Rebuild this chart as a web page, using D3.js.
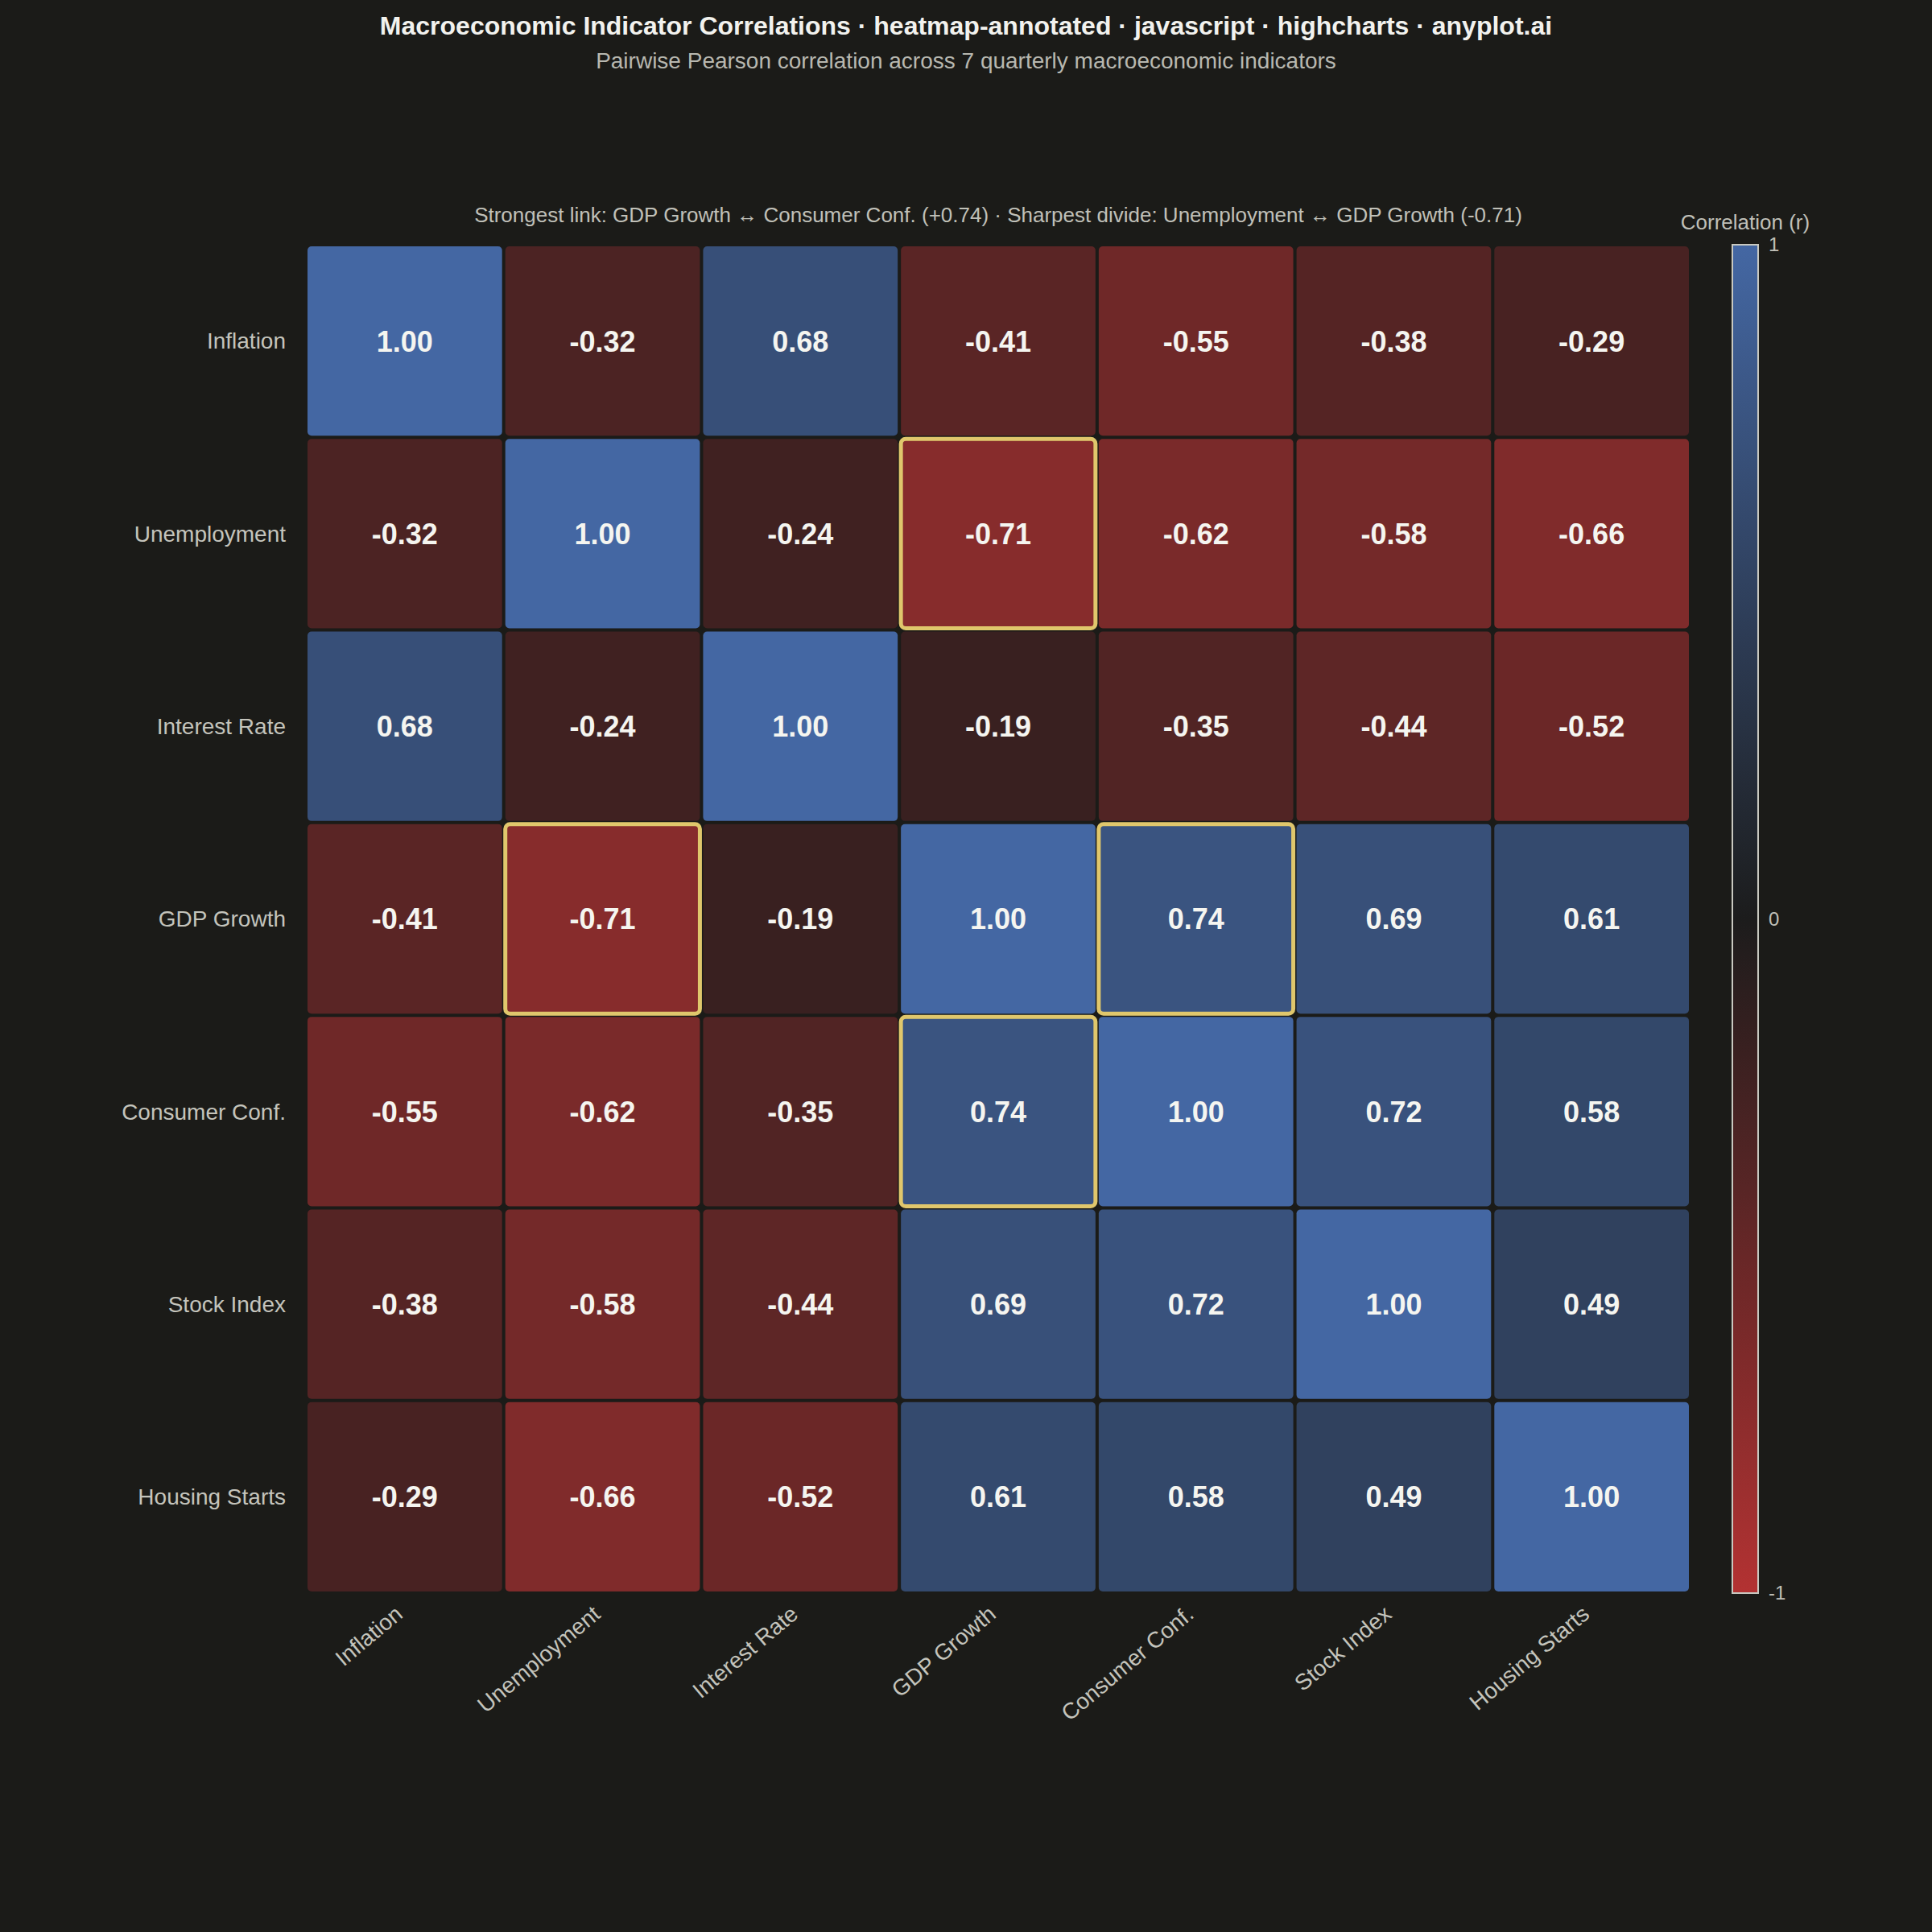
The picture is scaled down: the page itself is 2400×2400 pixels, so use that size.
<!DOCTYPE html>
<html>
<head>
<meta charset="utf-8">
<script src="https://cdn.jsdelivr.net/npm/d3@7/dist/d3.min.js"></script>
<style>
  html, body { margin: 0; padding: 0; background: #1b1b18; }
  svg { display: block; }
  text { font-family: "Liberation Sans", Arial, Helvetica, sans-serif; }
</style>
</head>
<body>
<svg id="chart" width="2400" height="2400"></svg>
<script>
// ---- data ----
const indicators = ["Inflation", "Unemployment", "Interest Rate", "GDP Growth", "Consumer Conf.", "Stock Index", "Housing Starts"];
const correlations = [
  [ 1.00, -0.32,  0.68, -0.41, -0.55, -0.38, -0.29],
  [-0.32,  1.00, -0.24, -0.71, -0.62, -0.58, -0.66],
  [ 0.68, -0.24,  1.00, -0.19, -0.35, -0.44, -0.52],
  [-0.41, -0.71, -0.19,  1.00,  0.74,  0.69,  0.61],
  [-0.55, -0.62, -0.35,  0.74,  1.00,  0.72,  0.58],
  [-0.38, -0.58, -0.44,  0.69,  0.72,  1.00,  0.49],
  [-0.29, -0.66, -0.52,  0.61,  0.58,  0.49,  1.00]
];
const highlighted = [["Unemployment", "GDP Growth"], ["GDP Growth", "Consumer Conf."]];
const colorDomain = [-1, 0, 1];
const colorTickLabels = ["1", "0", "-1"];
const colorTickValues = [1, 0, -1];

const titleText = "Macroeconomic Indicator Correlations · heatmap-annotated · javascript · highcharts · anyplot.ai";
const subtitleText = "Pairwise Pearson correlation across 7 quarterly macroeconomic indicators";
const annotationText = "Strongest link: GDP Growth \u2194 Consumer Conf. (+0.74) · Sharpest divide: Unemployment \u2194 GDP Growth (-0.71)";
const legendTitle = "Correlation (r)";

// ---- layout ----
const W = 2400, H = 2400;
const plot = { left: 380, right: 2100, top: 304, bottom: 1979 };
const svg = d3.select("#chart");
svg.append("rect").attr("width", W).attr("height", H).attr("fill", "#1b1b18");

const x = d3.scaleBand().domain(indicators).range([plot.left, plot.right]).padding(0);
const y = d3.scaleBand().domain(indicators).range([plot.top, plot.bottom]).padding(0);
const color = d3.scaleLinear().domain(colorDomain).range(["#b33232", "#1c1c1c", "#4467a3"]).interpolate(d3.interpolateRgb);
const fmt = v => d3.format(".2f")(v).replace("\u2212", "-");

const cells = [];
indicators.forEach((r, i) => indicators.forEach((c, j) => cells.push({ row: r, col: c, v: correlations[i][j] })));

const inset = 2;
const g = svg.append("g");
g.selectAll("rect.cell").data(cells).join("rect")
  .attr("class", "cell")
  .attr("x", d => x(d.col) + inset)
  .attr("y", d => y(d.row) + inset)
  .attr("width", x.bandwidth() - 2 * inset)
  .attr("height", y.bandwidth() - 2 * inset)
  .attr("rx", 5).attr("ry", 5)
  .attr("fill", d => color(d.v));

const isHi = d => highlighted.some(([a, b]) => (d.row === a && d.col === b) || (d.row === b && d.col === a));
g.selectAll("rect.hi").data(cells.filter(isHi)).join("rect")
  .attr("class", "hi")
  .attr("x", d => x(d.col) + inset)
  .attr("y", d => y(d.row) + inset)
  .attr("width", x.bandwidth() - 2 * inset)
  .attr("height", y.bandwidth() - 2 * inset)
  .attr("rx", 6).attr("ry", 6)
  .attr("fill", "none")
  .attr("stroke", "#e0c76c")
  .attr("stroke-width", 5);

g.selectAll("text.val").data(cells).join("text")
  .attr("class", "val")
  .attr("x", d => x(d.col) + x.bandwidth() / 2)
  .attr("y", d => y(d.row) + y.bandwidth() / 2)
  .attr("dy", "0.36em")
  .attr("text-anchor", "middle")
  .attr("font-size", 36)
  .attr("font-weight", "bold")
  .attr("fill", "#f5f5f0")
  .text(d => fmt(d.v));

// y axis labels
svg.append("g").selectAll("text").data(indicators).join("text")
  .attr("x", plot.left - 25)
  .attr("y", d => y(d) + y.bandwidth() / 2)
  .attr("dy", "0.35em")
  .attr("text-anchor", "end")
  .attr("font-size", 28)
  .attr("fill", "#c4c4bc")
  .text(d => d);

// x axis labels (rotated)
svg.append("g").selectAll("text").data(indicators).join("text")
  .attr("transform", d => `translate(${x(d) + x.bandwidth() / 2 - 1},${plot.bottom + 29}) rotate(-40)`)
  .attr("text-anchor", "end")
  .attr("font-size", 28)
  .attr("fill", "#c4c4bc")
  .text(d => d);

// titles
svg.append("text").attr("x", W / 2).attr("y", 43).attr("text-anchor", "middle")
  .attr("font-size", 32).attr("font-weight", "bold").attr("fill", "#f2f2ee").text(titleText);
svg.append("text").attr("x", W / 2).attr("y", 85).attr("text-anchor", "middle")
  .attr("font-size", 28).attr("fill", "#b8b8b0").text(subtitleText);
svg.append("text").attr("x", (plot.left + plot.right) / 2).attr("y", 276).attr("text-anchor", "middle")
  .attr("font-size", 26).attr("fill", "#c0c0b8").text(annotationText);

// color bar
const cb = { x: 2152, w: 32 };
const cbScale = d3.scaleLinear().domain([1, -1]).range([plot.top, plot.bottom]);
const defs = svg.append("defs");
const grad = defs.append("linearGradient").attr("id", "cbgrad").attr("x1", 0).attr("y1", 0).attr("x2", 0).attr("y2", 1);
d3.range(0, 21).forEach(k => {
  const v = 1 - k / 10;
  grad.append("stop").attr("offset", `${k * 5}%`).attr("stop-color", color(v));
});
svg.append("rect")
  .attr("x", cb.x).attr("y", cbScale(1))
  .attr("width", cb.w).attr("height", cbScale(-1) - cbScale(1))
  .attr("fill", "url(#cbgrad)")
  .attr("stroke", "#c8c8c0").attr("stroke-width", 2);
svg.append("g").selectAll("text").data(colorTickValues).join("text")
  .attr("x", cb.x + cb.w + 13)
  .attr("y", d => cbScale(d))
  .attr("dy", "0.35em")
  .attr("font-size", 24)
  .attr("fill", "#c0c0b8")
  .text((d, i) => colorTickLabels[i]);
svg.append("text").attr("x", cb.x + cb.w / 2).attr("y", 285).attr("text-anchor", "middle")
  .attr("font-size", 26).attr("fill", "#c0c0b8").text(legendTitle);
</script>
</body>
</html>
